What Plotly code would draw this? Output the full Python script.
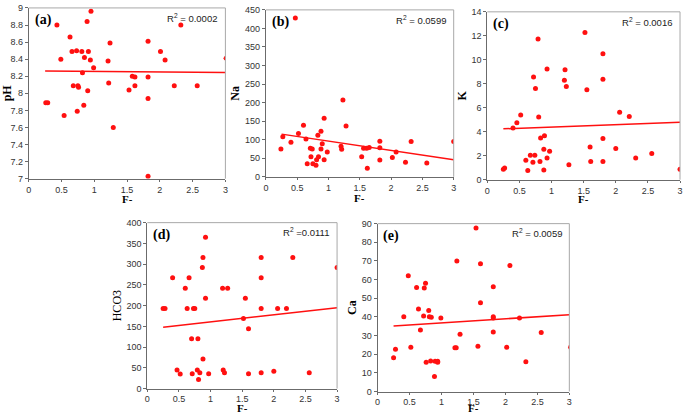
import plotly.graph_objects as go

# ---------------- data ----------------
F_a = [0.26, 0.29, 0.43, 0.49, 0.54, 0.63, 0.66, 0.68, 0.73, 0.74, 0.75, 0.76, 0.81, 0.82, 0.84, 0.85,
       0.89, 0.9, 0.91, 0.94, 0.95, 0.99, 1.21, 1.22, 1.24, 1.29, 1.53, 1.58, 1.62, 1.62, 1.82, 1.82,
       1.82, 1.82, 2.01, 2.08, 2.22, 2.32, 2.57, 3.01]
pH = [7.89, 7.89, 8.8, 8.4, 7.74, 8.66, 8.49, 8.09, 8.5, 7.79, 8.09, 8.07, 8.49, 8.24, 7.86, 8.42,
      8.84, 8.03, 8.49, 8.39, 8.96, 8.3, 8.38, 8.12, 8.59, 7.6, 8.04, 8.2, 8.19, 8.09, 8.61, 8.19,
      7.94, 7.03, 8.49, 8.39, 8.09, 8.8, 8.09, 8.41]

F_b = [0.24, 0.27, 0.4, 0.47, 0.52, 0.6, 0.64, 0.66, 0.71, 0.72, 0.74, 0.75, 0.8, 0.81, 0.83, 0.84,
       0.88, 0.88, 0.9, 0.93, 0.93, 0.98, 1.2, 1.21, 1.23, 1.28, 1.53, 1.56, 1.61, 1.62, 1.65, 1.82,
       1.82, 1.82, 2.02, 2.08, 2.23, 2.32, 2.57, 3.0]
Na = [75, 108, 93, 428, 117, 139, 102, 35, 77, 54, 75, 35, 31, 46, 112, 54,
      123, 75, 89, 158, 46, 67, 82, 74, 207, 137, 54, 77, 77, 23, 79, 96,
      78, 45, 52, 67, 39, 95, 37, 95]

F_c = [0.25, 0.27, 0.4, 0.46, 0.52, 0.6, 0.63, 0.67, 0.71, 0.72, 0.74, 0.75, 0.79, 0.8, 0.82, 0.83,
       0.88, 0.88, 0.89, 0.93, 0.93, 0.97, 1.2, 1.21, 1.23, 1.27, 1.52, 1.55, 1.6, 1.61, 1.8, 1.8,
       1.8, 1.8, 2.0, 2.06, 2.21, 2.31, 2.56, 3.0]
K = [0.87, 0.97, 4.31, 4.74, 5.39, 1.62, 0.76, 2.03, 1.46, 8.56, 2.03, 7.61, 11.73, 5.23, 1.52, 3.47,
     0.81, 2.55, 3.66, 9.23, 1.81, 2.38, 8.3, 9.18, 7.77, 1.25, 12.27, 7.5, 2.73, 1.52, 10.5, 8.37,
     3.44, 1.52, 2.6, 5.63, 5.28, 1.81, 2.19, 0.87]

F_d = [0.25, 0.28, 0.4, 0.47, 0.52, 0.6, 0.63, 0.66, 0.7, 0.71, 0.73, 0.75, 0.79, 0.8, 0.81, 0.83,
       0.87, 0.88, 0.88, 0.92, 0.92, 0.97, 1.19, 1.2, 1.22, 1.27, 1.52, 1.55, 1.6, 1.6, 1.8, 1.8,
       1.8, 1.8, 2.0, 2.06, 2.2, 2.3, 2.56, 3.0]
HCO3 = [193, 193, 267, 45, 35, 242, 193, 267, 120, 36, 193, 193, 45, 120, 22, 38,
        292, 71, 316, 365, 218, 36, 242, 45, 38, 242, 169, 218, 144, 36, 316, 267,
        193, 38, 42, 193, 193, 316, 38, 292]

F_e = [0.25, 0.28, 0.41, 0.48, 0.52, 0.61, 0.64, 0.67, 0.72, 0.73, 0.75, 0.76, 0.8, 0.81, 0.83, 0.84,
       0.89, 0.9, 0.94, 0.94, 0.99, 1.21, 1.23, 1.24, 1.29, 1.54, 1.57, 1.61, 1.61, 1.81, 1.81,
       1.81, 1.81, 2.02, 2.07, 2.22, 2.32, 2.56, 3.02]
Ca = [18.1, 22.7, 40.1, 62, 23.7, 55.8, 44.2, 33, 40.5, 55.5, 58.1, 15.7, 43.4, 40.1, 16.4, 39.8,
      8, 16.2, 16.2, 15.7, 39.4, 23.5, 23.5, 70, 30.7, 87.7, 24.2, 68.5, 47.6, 56.2, 40.1,
      39.4, 31.9, 23.7, 67.5, 39.4, 15.9, 31.6, 23.7]

trend_x = [0.25, 3.0]
trend_a = [8.262, 8.245]
trend_b = [115, 46]
trend_c = [4.24, 4.8]
trend_d = [148, 195]
trend_e = [35.1, 41.2]

panel_labels = ["(a)", "(b)", "(c)", "(d)", "(e)"]
r2_labels = ["R<sup>2</sup> = 0.0002", "R<sup>2</sup> = 0.0599", "R<sup>2</sup> = 0.0016",
             "R<sup>2</sup> =0.0111", "R<sup>2</sup> = 0.0059"]
y_titles = ["pH", "Na", "K", "HCO3", "Ca"]
x_title = "F-"

panels = [
    (F_a, pH, trend_a, [7, 9], 0.2),
    (F_b, Na, trend_b, [0, 450], 50),
    (F_c, K, trend_c, [0, 14], 2),
    (F_d, HCO3, trend_d, [0, 400], 50),
    (F_e, Ca, trend_e, [0, 90], 10),
]

# ---------------- layout geometry (pixels in a 685x417 canvas) ----------------
W, H = 685, 417
boxes = [  # x0, x1, y0(top), y1(bottom)
    (24, 223, 3, 178),
    (264, 454, 5, 176),
    (488, 683, 7, 179),
    (144, 336, 223, 393),
    (377, 571, 224, 396),
]
xtitle_shift = [-13, -14, -12, -12, -9]

RED = "#ff1010"
fig = go.Figure()
layout = dict(
    width=W, height=H, margin=dict(l=0, r=0, t=0, b=0),
    paper_bgcolor="white", plot_bgcolor="white", showlegend=False,
)
annotations = []
shapes = []
tick_font = dict(family="Liberation Sans, Arial, sans-serif", size=9, color="#333333")
serif_b = dict(family="Liberation Serif, Times New Roman, serif", size=12, color="#000000")

for i, ((fx, fy, tr, yr, ydt), (x0, x1, y0, y1)) in enumerate(zip(panels, boxes)):
    n = "" if i == 0 else str(i + 1)
    xa, ya = "x" + n, "y" + n
    fig.add_trace(go.Scatter(x=fx, y=fy, mode="markers", xaxis=xa, yaxis=ya,
                             marker=dict(color=RED, size=5, line=dict(width=0))))
    fig.add_trace(go.Scatter(x=trend_x, y=tr, mode="lines", xaxis=xa, yaxis=ya,
                             line=dict(color=RED, width=1.5)))
    ytitle_text = "<b>%s</b>" % y_titles[i] if i != 3 else y_titles[i]
    layout["xaxis" + n] = dict(
        domain=[x0 / W, x1 / W], anchor=ya, range=[0, 3], dtick=0.5, tick0=0,
        showgrid=False, zeroline=False, showline=True, linecolor="#6b6b6b", linewidth=1,
        ticks="outside", ticklen=2, tickcolor="#6b6b6b", tickfont=tick_font,
    )
    layout["yaxis" + n] = dict(
        domain=[1 - y1 / H, 1 - y0 / H], anchor=xa, range=yr, dtick=ydt, tick0=yr[0],
        showgrid=False, zeroline=False, showline=True, linecolor="#6b6b6b", linewidth=1,
        ticks="outside", ticklen=3, tickcolor="#6b6b6b", tickfont=tick_font,
        title=dict(text=ytitle_text, font=serif_b, standoff=2),
    )
    # top & right light frame
    shapes.append(dict(type="line", xref=xa + " domain", yref=ya + " domain",
                       x0=0, x1=1, y0=1, y1=1, line=dict(color="#a8a8a8", width=1)))
    shapes.append(dict(type="line", xref=xa + " domain", yref=ya + " domain",
                       x0=1, x1=1, y0=0, y1=1, line=dict(color="#a8a8a8", width=1)))
    annotations.append(dict(text="<b>%s</b>" % panel_labels[i], xref=xa + " domain", yref=ya + " domain",
                            x=0.02, y=0.985, xanchor="left", yanchor="top", showarrow=False,
                            font=dict(family="Liberation Serif, Times New Roman, serif", size=14, color="#000")))
    annotations.append(dict(text=r2_labels[i], xref=xa + " domain", yref=ya + " domain",
                            x=0.97, y=0.99, xanchor="right", yanchor="top", showarrow=False,
                            font=dict(family="Liberation Sans, Arial, sans-serif", size=9.5, color="#222")))
    annotations.append(dict(text="<b>%s</b>" % x_title, xref=xa + " domain", yref=ya + " domain",
                            x=0.5, y=0, xanchor="center", yanchor="top", yshift=xtitle_shift[i],
                            borderpad=0, showarrow=False, font=dict(serif_b, size=11)))

layout["annotations"] = annotations
layout["shapes"] = shapes
fig.update_layout(**layout)
fig.write_html("out.html", config={"displayModeBar": False},
               post_script="document.body.style.margin='0';document.body.style.padding='0';")
